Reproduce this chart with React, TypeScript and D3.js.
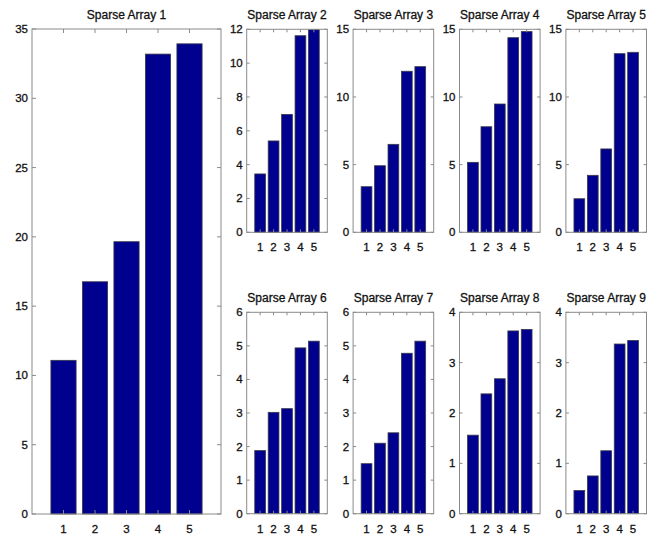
import React from "react";
import * as d3 from "d3";

// Bar heights for each sparse array (categories 1..5)
const categories = [1, 2, 3, 4, 5];
const titles = [
  "Sparse Array 1", "Sparse Array 2", "Sparse Array 3", "Sparse Array 4", "Sparse Array 5",
  "Sparse Array 6", "Sparse Array 7", "Sparse Array 8", "Sparse Array 9",
];
const series1 = [11.09, 16.76, 19.65, 33.19, 33.93];
const series2 = [3.45, 5.4, 6.97, 11.62, 11.98];
const series3 = [3.37, 4.92, 6.5, 11.9, 12.24];
const series4 = [5.17, 7.8, 9.48, 14.38, 14.83];
const series5 = [2.48, 4.21, 6.16, 13.2, 13.3];
const series6 = [1.88, 3.02, 3.13, 4.94, 5.14];
const series7 = [1.49, 2.1, 2.41, 4.78, 5.14];
const series8 = [1.56, 2.38, 2.68, 3.63, 3.66];
const series9 = [0.46, 0.75, 1.25, 3.37, 3.44];
const allSeries = [series1, series2, series3, series4, series5, series6, series7, series8, series9];

// y-axis limits and tick labels per panel
const yMax = [35, 12, 15, 15, 15, 6, 6, 4, 4];
const yTicks = [
  [0, 5, 10, 15, 20, 25, 30, 35],
  [0, 2, 4, 6, 8, 10, 12],
  [0, 5, 10, 15],
  [0, 5, 10, 15],
  [0, 5, 10, 15],
  [0, 1, 2, 3, 4, 5, 6],
  [0, 1, 2, 3, 4, 5, 6],
  [0, 1, 2, 3, 4],
  [0, 1, 2, 3, 4],
];

const W = 660;
const H = 535;
const FONT = "'Liberation Sans', Arial, sans-serif";
const BAR = "#00008f";
const AXIS = "#8a8a8a";
const TEXT = "#111";

type Box = { x0: number; x1: number; y0: number; y1: number };

function panelBox(i: number): Box {
  if (i === 0) return { x0: 32, x1: 221, y0: 29, y1: 514 };
  const col = (i - 1) % 4;
  const row = Math.floor((i - 1) / 4);
  const x0 = 246.7 + col * 106.4;
  const y0 = row === 0 ? 29.3 : 312.3;
  const y1 = row === 0 ? 232.3 : 513.7;
  return { x0, x1: x0 + 80.6, y0, y1 };
}

const textStyle = {
  fontFamily: FONT,
  fill: TEXT,
  stroke: TEXT,
  strokeWidth: 0.3,
} as const;

function Panel({ i }: { i: number }) {
  const b = panelBox(i);
  const data = allSeries[i];
  const x = d3.scaleLinear().domain([0, 6]).range([b.x0, b.x1]);
  const y = d3.scaleLinear().domain([0, yMax[i]]).range([b.y1, b.y0]);
  const step = x(1) - x(0);
  const bw = step * 0.8;
  const tl = i === 0 ? 4 : 3;
  return (
    <g>
      {data.map((v, k) => (
        <rect
          key={k}
          x={x(categories[k]) - bw / 2}
          y={y(v)}
          width={bw}
          height={y(0) - y(v)}
          fill={BAR}
          stroke="#3a3a4a"
          strokeWidth={0.8}
        />
      ))}
      <rect
        x={b.x0}
        y={b.y0}
        width={b.x1 - b.x0}
        height={b.y1 - b.y0}
        fill="none"
        stroke={AXIS}
        strokeWidth={1}
      />
      {yTicks[i].map((t) => (
        <g key={"y" + t}>
          <line x1={b.x0} x2={b.x0 + tl} y1={y(t)} y2={y(t)} stroke={AXIS} />
          <line x1={b.x1} x2={b.x1 - tl} y1={y(t)} y2={y(t)} stroke={AXIS} />
          <text
            x={b.x0 - 4}
            y={y(t)}
            dy="0.35em"
            textAnchor="end"
            fontSize={11.5}
            style={textStyle}
          >
            {t}
          </text>
        </g>
      ))}
      {categories.map((c) => (
        <g key={"x" + c}>
          <line x1={x(c)} x2={x(c)} y1={b.y0} y2={b.y0 + tl} stroke={AXIS} />
          <line x1={x(c)} x2={x(c)} y1={b.y1} y2={b.y1 - tl} stroke={AXIS} />
          <text
            x={x(c)}
            y={b.y1 + 19}
            textAnchor="middle"
            fontSize={11.5}
            style={textStyle}
          >
            {c}
          </text>
        </g>
      ))}
      <text
        x={(b.x0 + b.x1) / 2}
        y={b.y0 - 10}
        textAnchor="middle"
        fontSize={12}
        style={textStyle}
      >
        {titles[i]}
      </text>
    </g>
  );
}

export default function App() {
  return (
    <svg
      width={W}
      height={H}
      style={{ position: "absolute", left: 0, top: 0, background: "#fff" }}
    >
      <rect width={W} height={H} fill="#fff" />
      {titles.map((_, i) => (
        <Panel key={i} i={i} />
      ))}
    </svg>
  );
}
